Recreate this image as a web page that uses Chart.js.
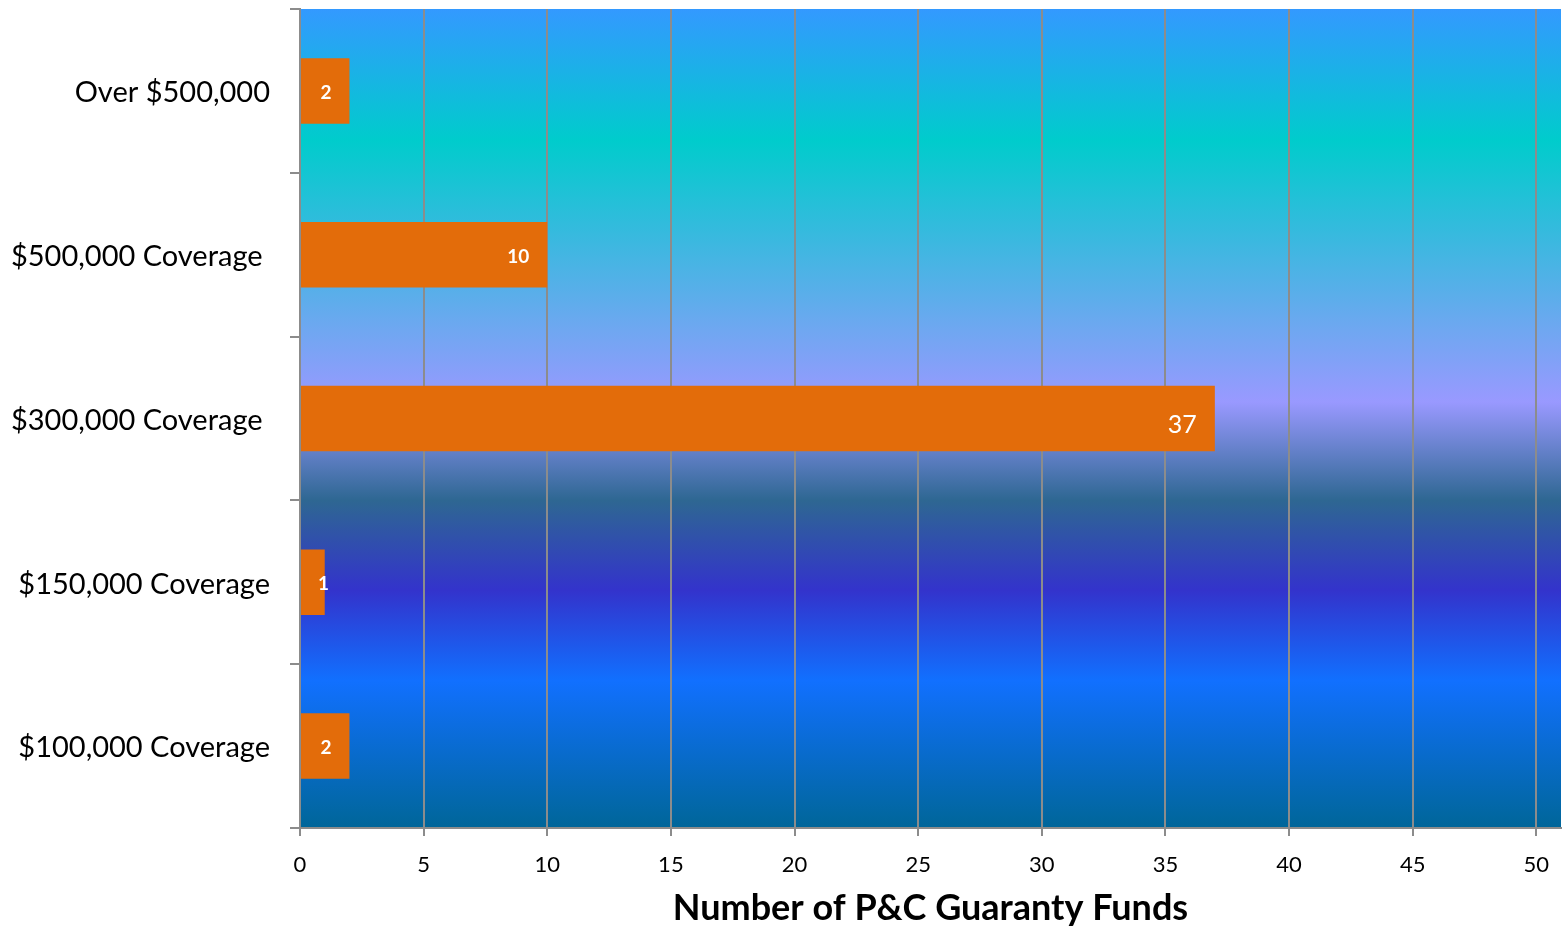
<!DOCTYPE html>
<html>
<head>
<meta charset="utf-8">
<script src="https://cdn.jsdelivr.net/npm/chart.js@4.4.1/dist/chart.umd.min.js"></script>
<style>
  html, body { margin: 0; padding: 0; background: #ffffff; }
  canvas { display: block; }
</style>
</head>
<body>
<canvas id="chart" width="1563" height="930"></canvas>
<script>
// Coverage tiers, top to bottom
const categories = [
  'Over $500,000',
  '$500,000 Coverage ',
  '$300,000 Coverage ',
  '$150,000 Coverage',
  '$100,000 Coverage'
];
// Number of guaranty funds in each tier
const fundCounts = [2, 10, 37, 1, 2];
// Value axis
const xTickValues = [0, 5, 10, 15, 20, 25, 30, 35, 40, 45, 50];
const xAxisMax = 51;
const xAxisTitle = 'Number of P&C Guaranty Funds';

const FONT = 'Lato, "Open Sans", sans-serif';
const GRID = '#8c8c8c';

// Label styling per bar
const labelFonts = [
  'bold 19px ' + FONT, 'bold 19px ' + FONT, '25px ' + FONT, 'bold 19px ' + FONT, 'bold 19px ' + FONT
];
const labelShift = [2, 2, 6, 2, 2];

// Plot-area background gradient
const plotBackground = {
  id: 'plotBackground',
  beforeDraw(chart) {
    const { ctx, chartArea: a } = chart;
    const g = ctx.createLinearGradient(0, a.top, 0, a.bottom);
    g.addColorStop(0.00, '#3399ff');
    g.addColorStop(0.16, '#00cccc');
    g.addColorStop(0.48, '#9999ff');
    g.addColorStop(0.60, '#2e6792');
    g.addColorStop(0.71, '#3333cc');
    g.addColorStop(0.82, '#1170ff');
    g.addColorStop(1.00, '#006699');
    ctx.save();
    ctx.fillStyle = g;
    ctx.fillRect(a.left, a.top, a.right - a.left, a.bottom - a.top);
    ctx.restore();
  }
};

// Value labels inside the bar ends
const barLabels = {
  id: 'barLabels',
  afterDatasetsDraw(chart) {
    const { ctx } = chart;
    const meta = chart.getDatasetMeta(0);
    ctx.save();
    ctx.fillStyle = '#ffffff';
    ctx.textAlign = 'right';
    ctx.textBaseline = 'middle';
    meta.data.forEach((bar, i) => {
      const { x, y, base } = bar.getProps(['x', 'y', 'base'], true);
      const text = String(fundCounts[i]);
      ctx.font = labelFonts[i];
      const w = ctx.measureText(text).width;
      let right = x - 18;
      if (right - w < base + 17) right = base + 17 + w;
      ctx.fillText(text, right, y + labelShift[i]);
    });
    ctx.restore();
  }
};

new Chart(document.getElementById('chart'), {
  type: 'bar',
  data: {
    labels: categories,
    datasets: [{
      data: fundCounts,
      backgroundColor: '#e36c0a',
      borderWidth: 0,
      categoryPercentage: 1,
      barPercentage: 0.4
    }]
  },
  plugins: [plotBackground, barLabels],
  options: {
    indexAxis: 'y',
    responsive: false,
    animation: false,
    layout: { padding: { top: 9, right: 2, left: 0, bottom: 0 } },
    plugins: {
      legend: { display: false },
      tooltip: { enabled: false }
    },
    scales: {
      x: {
        type: 'linear',
        min: 0,
        max: xAxisMax,
        afterBuildTicks(scale) {
          scale.ticks = xTickValues.map(v => ({ value: v }));
        },
        afterFit(scale) {
          scale.height = 102;
          scale.paddingLeft = 0;
          scale.paddingRight = 0;
        },
        grid: {
          color: GRID,
          lineWidth: 2,
          drawTicks: true,
          tickLength: 8,
          tickColor: GRID
        },
        border: { display: true, color: GRID, width: 2 },
        ticks: {
          color: '#000000',
          font: { family: FONT, size: 22 },
          padding: 16,
          maxRotation: 0
        },
        title: {
          display: true,
          text: xAxisTitle,
          color: '#000000',
          font: { family: FONT, size: 36, weight: 'bold' },
          padding: { top: 0, bottom: 0 }
        }
      },
      y: {
        type: 'category',
        afterFit(scale) {
          scale.width = 300;
          scale.paddingTop = 0;
          scale.paddingBottom = 0;
        },
        grid: {
          offset: true,
          drawOnChartArea: false,
          drawTicks: true,
          tickLength: 10,
          color: GRID,
          tickColor: GRID,
          lineWidth: 2
        },
        border: { display: true, color: GRID, width: 2 },
        ticks: {
          color: '#000000',
          font: { family: FONT, size: 29 },
          padding: 20,
          labelOffset: 2
        }
      }
    }
  }
});
</script>
</body>
</html>
